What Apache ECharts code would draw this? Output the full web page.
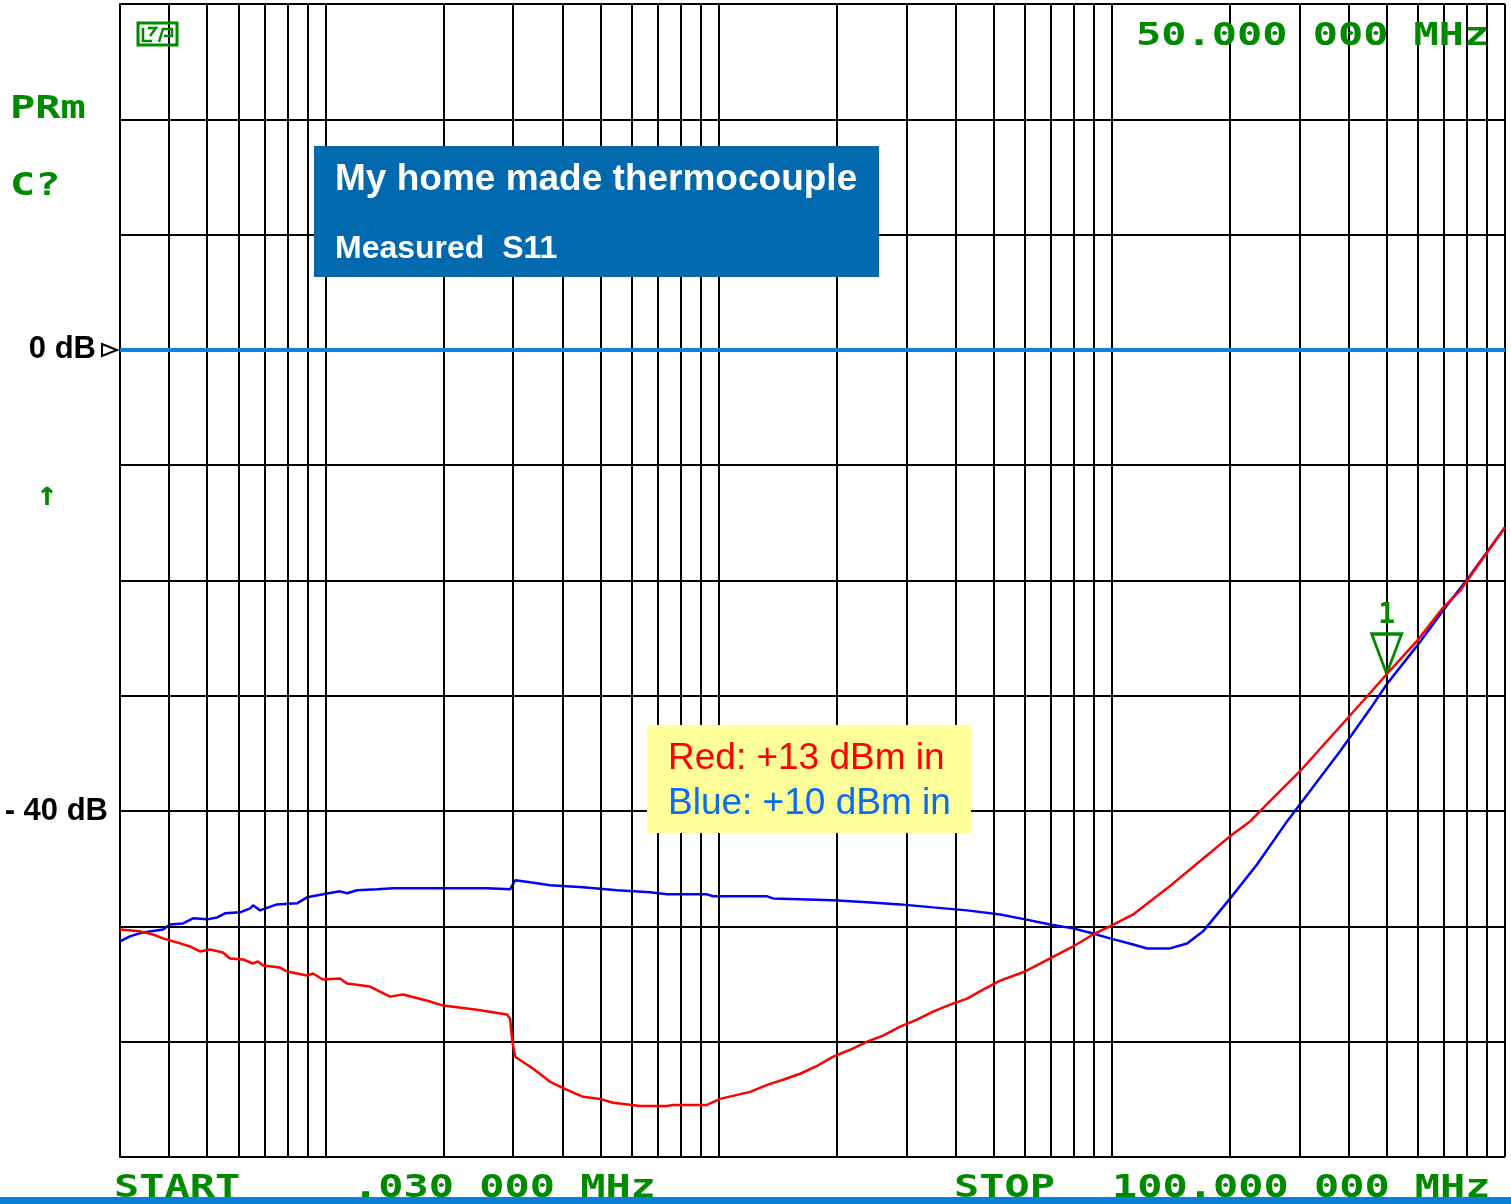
<!DOCTYPE html>
<html>
<head>
<meta charset="utf-8">
<script src="https://cdn.jsdelivr.net/npm/echarts@6/dist/echarts.min.js"></script>
<style>
html,body{margin:0;padding:0;background:#fff;}
#chart{width:1511px;height:1204px;}
</style>
</head>
<body>
<div id="chart"></div>
<script>
// ---- data (frequency in MHz, level in dB) ----
var redFreq = [0.03,0.0337,0.0364,0.0386,0.0419,0.0452,0.0479,0.0508,0.0548,0.0571,0.0617,0.0653,0.0673,0.0694,0.0766,0.0798,0.0897,0.0929,0.0984,0.1089,0.1133,0.1297,0.1459,0.1574,0.1845,0.1991,0.2427,0.2893,0.2947,0.2982,0.3035,0.3373,0.3726,0.4113,0.4521,0.499,0.5385,0.631,0.7386,0.7656,0.9337,1.008,1.202,1.328,1.458,1.611,1.779,1.955,2.159,2.385,2.619,2.893,3.193,3.509,3.876,4.283,4.702,5.198,6.018,6.966,7.97,8.955,9.89,11.33,13.82,16.75,20.0,22.5,25.24,30.14,43.58,50.13,59.8,69.6,76.9,100];
var redDb = [-50.26,-50.43,-50.7,-51.04,-51.39,-51.74,-52.17,-52.0,-52.26,-52.78,-52.87,-53.22,-53.04,-53.39,-53.57,-53.91,-54.26,-54.09,-54.61,-54.52,-54.96,-55.22,-56.09,-55.91,-56.52,-56.87,-57.22,-57.65,-58.0,-59.83,-61.3,-62.35,-63.48,-64.17,-64.78,-64.96,-65.3,-65.57,-65.57,-65.48,-65.48,-64.96,-64.35,-63.74,-63.3,-62.78,-62.09,-61.3,-60.7,-60.0,-59.48,-58.7,-58.09,-57.39,-56.78,-56.26,-55.48,-54.7,-53.91,-52.78,-51.74,-50.7,-50.0,-48.96,-46.7,-44.35,-42.17,-40.87,-39.13,-36.52,-30.43,-28.09,-25.22,-22.35,-20.87,-15.39];
var blueFreq = [0.03,0.0318,0.0343,0.0386,0.0402,0.0434,0.046,0.05,0.053,0.0555,0.0606,0.0643,0.0654,0.0681,0.0752,0.0846,0.0897,0.0985,0.1088,0.1134,0.1202,0.1352,0.1485,0.1991,0.2575,0.2947,0.3035,0.3311,0.3726,0.4521,0.5513,0.669,0.7386,0.9337,0.9676,1.328,1.374,1.955,2.385,2.893,3.509,4.283,5.198,6.018,6.966,7.97,8.955,9.89,11.33,12.3,14.06,15.53,17.06,20.0,23.42,27.92,38.1,45.4,50.13,59.8,69.6,81.5,100];
var blueDb = [-51.3,-50.87,-50.52,-50.26,-49.83,-49.74,-49.3,-49.39,-49.22,-48.87,-48.78,-48.43,-48.17,-48.61,-48.09,-48.0,-47.48,-47.22,-46.96,-47.13,-46.87,-46.78,-46.7,-46.7,-46.7,-46.78,-46.0,-46.17,-46.43,-46.61,-46.87,-47.04,-47.22,-47.22,-47.39,-47.39,-47.57,-47.74,-47.91,-48.09,-48.35,-48.61,-48.96,-49.39,-49.83,-50.17,-50.61,-51.04,-51.57,-51.91,-51.91,-51.48,-50.43,-47.57,-44.61,-40.87,-34.78,-31.13,-28.96,-25.65,-22.61,-19.57,-15.39];
var gridFreqs = [0.04,0.05,0.06,0.07,0.08,0.09,0.1,0.2,0.3,0.4,0.5,0.6,0.7,0.8,0.9,1,2,3,4,5,6,7,8,9,10,20,30,40,50,60,70,80,90,100];
var refLevel = 0;
var markerFreq = 50;
var markerDb = -28.1;
var yLabels = {'0': '0 dB', '-40': '- 40 dB'};

var GREEN = '#008a00';
var MONO = '"DejaVu Sans Mono", monospace';
var ARIAL = '"Liberation Sans", Arial, sans-serif';

function zip(a, b) { return a.map(function (v, i) { return [v, b[i]]; }); }

function greenText(str, x, y, size, sx) {
  return {
    type: 'text', x: x, y: y, scaleX: sx || 1.31, z: 100,
    style: { text: str, fill: GREEN, font: 'bold ' + (size || 32) + 'px ' + MONO, textVerticalAlign: 'middle', textAlign: 'left' }
  };
}

var chart = echarts.init(document.getElementById('chart'), null, { renderer: 'canvas' });

var option = {
  backgroundColor: '#ffffff',
  animation: false,
  grid: { left: 120, right: 6, top: 4, bottom: 47, containLabel: false },
  xAxis: {
    type: 'log', logBase: 10, min: 0.03, max: 100,
    axisLine: { show: true, lineStyle: { color: '#000', width: 2 } },
    axisTick: { show: false }, axisLabel: { show: false }, splitLine: { show: false }
  },
  yAxis: {
    type: 'value', min: -70, max: 30, interval: 10,
    axisLine: { show: true, lineStyle: { color: '#000', width: 2 } },
    axisTick: { show: false },
    splitLine: { show: true, lineStyle: { color: '#000', width: 2 } },
    axisLabel: {
      show: true, margin: 12, color: '#000', fontFamily: ARIAL, fontWeight: 'bold', fontSize: 31,
      formatter: function (v) {
        var s = yLabels[String(v)];
        if (!s) return '';
        return v === 0 ? '{z|' + s + '}' : s;
      },
      rich: { z: { padding: [0, 12, 0, 0], fontFamily: ARIAL, fontWeight: 'bold', fontSize: 31, color: '#000' } }
    }
  },
  series: [
    {
      name: 'grid', type: 'line', data: [], z: 1, silent: true,
      markLine: {
        silent: true, symbol: ['none', 'none'], animation: false,
        label: { show: false },
        lineStyle: { color: '#000', width: 2, type: 'solid' },
        data: gridFreqs.map(function (f) { return { xAxis: f }; })
      }
    },
    {
      name: 'ref', type: 'line', data: [], z: 3, silent: true,
      markLine: {
        silent: true, symbol: ['none', 'none'], animation: false,
        label: { show: false },
        lineStyle: { color: '#0a84dc', width: 4, type: 'solid' },
        data: [{ yAxis: refLevel }]
      }
    },
    {
      name: 'Blue: +10 dBm in', type: 'line', z: 4,
      data: zip(blueFreq, blueDb), showSymbol: false, symbol: 'none',
      lineStyle: { color: '#0000ff', width: 2.5 }
    },
    {
      name: 'Red: +13 dBm in', type: 'line', z: 5,
      data: zip(redFreq, redDb), showSymbol: false, symbol: 'none',
      lineStyle: { color: '#ff0000', width: 2.5 },
      markPoint: {
        silent: true,
        data: [{ coord: [markerFreq, markerDb] }],
        symbol: 'path://M0,0L30,0L15,40Z',
        symbolSize: [30, 40],
        symbolOffset: [0, '-50%'],
        itemStyle: { color: 'rgba(0,0,0,0)', borderColor: GREEN, borderWidth: 3 },
        label: {
          show: true, position: 'top', distance: 2, formatter: '1',
          color: GREEN, fontFamily: MONO, fontWeight: 'bold', fontSize: 28
        }
      }
    }
  ],
  graphic: [
    // instrument annotations
    { type: 'rect', z: 100, shape: { x: 138, y: 23, width: 39, height: 22 }, style: { fill: 'none', stroke: GREEN, lineWidth: 3 } },
    { type: 'polyline', z: 100, shape: { points: [[143, 28], [143, 41], [152, 41]] }, style: { fill: 'none', stroke: GREEN, lineWidth: 2.5 } },
    { type: 'polyline', z: 100, shape: { points: [[148, 28], [156, 28], [150, 36]] }, style: { fill: 'none', stroke: GREEN, lineWidth: 2.5 } },
    { type: 'polyline', z: 100, shape: { points: [[159, 42], [163, 29], [172, 29], [172, 36], [164, 36]] }, style: { fill: 'none', stroke: GREEN, lineWidth: 2.5 } },
    greenText('PRm', 10, 110, 32),
    greenText('C?', 10, 187, 32),
    { type: 'text', x: 47, y: 496, z: 100, style: { text: '↑', fill: GREEN, font: 'bold 34px ' + MONO, textAlign: 'center', textVerticalAlign: 'middle' } },
    greenText('50.000 000 MHz', 1136, 37, 32),
    greenText('START', 114, 1189, 32),
    greenText('.030 000 MHz', 353, 1189, 32),
    greenText('STOP', 954, 1189, 32),
    greenText('100.000 000 MHz', 1112, 1189, 32),
    // 0 dB reference arrow
    { type: 'polygon', z: 100, shape: { points: [[102, 344], [117, 350], [102, 356]] }, style: { fill: '#fff', stroke: '#000', lineWidth: 2 } },
    // title box
    { type: 'rect', z: 100, shape: { x: 314, y: 146, width: 565, height: 131 }, style: { fill: '#0369ae' } },
    { type: 'text', x: 335, y: 180, z: 101, style: { text: 'My home made thermocouple', fill: '#fff', font: 'bold 37px ' + ARIAL, textVerticalAlign: 'middle' } },
    { type: 'text', x: 335, y: 249, z: 101, style: { text: 'Measured  S11', fill: '#fff', font: 'bold 32px ' + ARIAL, textVerticalAlign: 'middle' } },
    // legend box
    { type: 'rect', z: 100, shape: { x: 647, y: 725, width: 324, height: 108 }, style: { fill: '#ffff99' } },
    { type: 'text', x: 668, y: 759, z: 101, style: { text: 'Red: +13 dBm in', fill: '#ff0000', font: '37px ' + ARIAL, textVerticalAlign: 'middle' } },
    { type: 'text', x: 668, y: 804, z: 101, style: { text: 'Blue: +10 dBm in', fill: '#0a6cf0', font: '37px ' + ARIAL, textVerticalAlign: 'middle' } },
    // bottom bar
    { type: 'rect', z: 100, shape: { x: 0, y: 1197, width: 1511, height: 7 }, style: { fill: '#0a80d8' } }
  ]
};
chart.setOption(option);
</script>
</body>
</html>
